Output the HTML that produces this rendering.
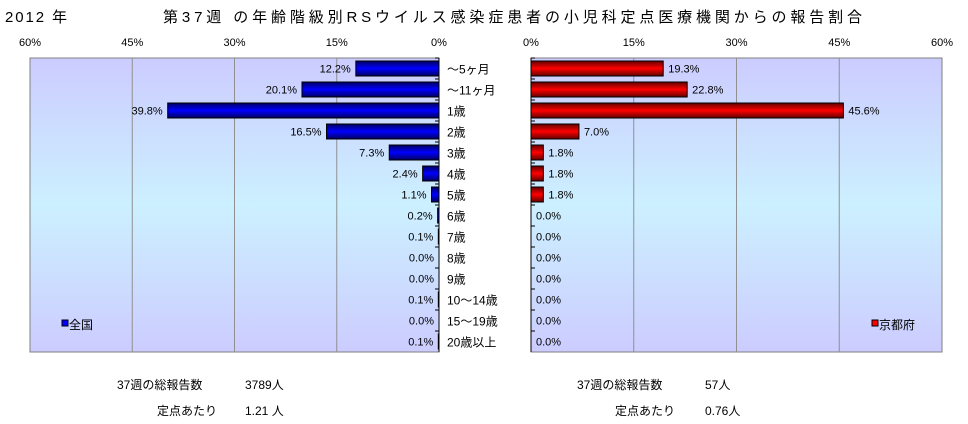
<!DOCTYPE html>
<html><head><meta charset="utf-8">
<style>
body{margin:0;background:#fff;}
svg{display:block;font-family:"Liberation Sans","Noto Sans CJK JP",sans-serif;}
</style></head>
<body>
<svg id="c" width="968" height="424" viewBox="0 0 968 424">
<defs>
<linearGradient id="bg" x1="0" y1="0" x2="0" y2="1">
<stop offset="0" stop-color="#ccccff"/><stop offset="0.5" stop-color="#ccf0ff"/><stop offset="1" stop-color="#ccccff"/>
</linearGradient>
<linearGradient id="gb" x1="0" y1="0" x2="0" y2="1">
<stop offset="0" stop-color="#000060"/><stop offset="0.5" stop-color="#0000ff"/><stop offset="1" stop-color="#000060"/>
</linearGradient>
<linearGradient id="gr" x1="0" y1="0" x2="0" y2="1">
<stop offset="0" stop-color="#600000"/><stop offset="0.5" stop-color="#ff0000"/><stop offset="1" stop-color="#600000"/>
</linearGradient>
</defs>
<text x="5" y="22" font-size="15" textLength="62">2012 年</text>
<text x="163" y="22" font-size="15" textLength="699" lengthAdjust="spacing">第37週 の年齢階級別RSウイルス感染症患者の小児科定点医療機関からの報告割合</text>
<g id="L"></g><g id="R"></g>
<text x="117" y="389" font-size="12">37週の総報告数</text>
<text x="245" y="389" font-size="12">3789人</text>
<text x="157" y="415" font-size="12">定点あたり</text>
<text x="245" y="415" font-size="12">1.21 人</text>
<text x="577" y="389" font-size="12">37週の総報告数</text>
<text x="705" y="389" font-size="12">57人</text>
<text x="615" y="415" font-size="12">定点あたり</text>
<text x="705" y="415" font-size="12">0.76人</text>
</svg>
<script>
const categories=["～5ヶ月","～11ヶ月","1歳","2歳","3歳","4歳","5歳","6歳","7歳","8歳","9歳","10～14歳","15～19歳","20歳以上"];
const nationalValues=[12.2,20.1,39.8,16.5,7.3,2.4,1.1,0.2,0.1,0.0,0.0,0.1,0.0,0.1];
const kyotoValues=[19.3,22.8,45.6,7.0,1.8,1.8,1.8,0.0,0.0,0.0,0.0,0.0,0.0,0.0];
const tickValues=[0,15,30,45,60];
const NS="http://www.w3.org/2000/svg";
const plotTop=58,plotBottom=352,nRows=categories.length,rowH=(plotBottom-plotTop)/nRows;
function mk(tag,attrs,parent,txt){const e=document.createElementNS(NS,tag);for(const k in attrs)e.setAttribute(k,attrs[k]);if(txt!==undefined)e.textContent=txt;parent.appendChild(e);return e;}
function yBand(i){return plotTop+i*rowH;}
function panel(g,x0,x60,vals,fill,legend,legX,side){
  const xs=v=>x0+(x60-x0)*v/60;
  const l=Math.min(x0,x60),r=Math.max(x0,x60);
  const bgR=mk('rect',{x:l,y:plotTop,width:r-l,height:plotBottom-plotTop,fill:'url(#bg)',stroke:'#808080'},g);
  
  
  tickValues.forEach(t=>{
    const x=xs(t);
    if(t>0&&t<60){const ln=mk('line',{x1:x,x2:x,y1:plotTop,y2:plotBottom,stroke:'#909090'},g);
      
      }
    const tx=mk('text',{x:x,y:46,'font-size':11,'text-anchor':'middle'},g,t+'%');
    
    
  });
  mk('line',{x1:x0,x2:x0,y1:plotTop,y2:plotBottom,stroke:'#000'},g);
  vals.forEach((v,i)=>{
    const y=yBand(i),bh=15,by=y+(rowH-bh)/2,xe=xs(v);
    mk('line',{x1:x0,x2:x0+(side==='left'?-4:4),y1:y,y2:y,stroke:'#000'},g);
    if(v>0){const b=mk('rect',{x:Math.min(x0,xe),y:by,width:Math.abs(xe-x0),height:bh,fill:fill,stroke:'#000'},g);
      
      }
    const lab=side==='left'?mk('text',{x:xe-5,y:y+rowH/2+4,'font-size':11,'text-anchor':'end'},g,v.toFixed(1)+'%'):mk('text',{x:xe+5,y:y+rowH/2+4,'font-size':11},g,v.toFixed(1)+'%');
    
    
  });
  const lg=mk('g',{},g);
  
  
  mk('rect',{x:legX,y:320,width:6,height:6,fill:side==='left'?'#0000ff':'#ff0000',stroke:'#000'},lg);
  mk('text',{x:legX+7,y:329,'font-size':12},lg,legend);
}
const gL=document.getElementById('L'),gR=document.getElementById('R');
panel(gL,439,30,nationalValues,'url(#gb)','全国',62,'left');
panel(gR,531,942,kyotoValues,'url(#gr)','京都府',872,'right');
categories.forEach((c,i)=>{
  const t=mk('text',{x:447,y:yBand(i)+rowH/2+5,'font-size':12},gL,c);
  
  
});
</script>
</body></html>
